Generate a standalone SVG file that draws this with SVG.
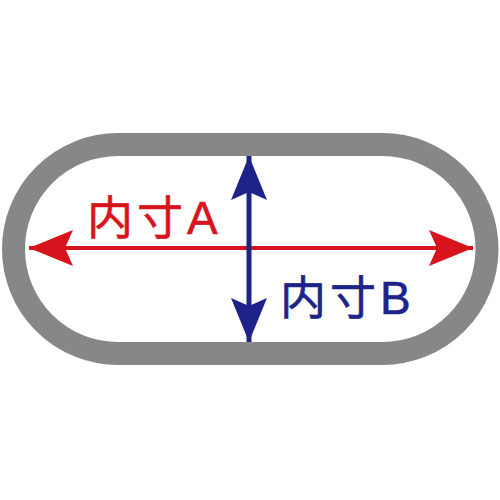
<svg xmlns="http://www.w3.org/2000/svg" width="500" height="500" viewBox="0 0 500 500">
<defs>
<style>
.lbl{font-family:"Liberation Sans","Noto Sans CJK JP",sans-serif;font-size:46px}
.red{fill:#d7141d}
.blue{fill:#1d2388}
</style>
<marker id="ahRed" markerUnits="userSpaceOnUse" viewBox="0 0 44 36" refX="44" refY="18" markerWidth="44" markerHeight="36" orient="auto-start-reverse">
<path d="M0,0 L44,18 L0,36 L8,18 z" fill="#d7141d"/>
</marker>
<marker id="ahBlue" markerUnits="userSpaceOnUse" viewBox="0 0 44 36" refX="44" refY="18" markerWidth="44" markerHeight="36" orient="auto-start-reverse">
<path d="M0,0 L44,18 L0,36 L8,18 z" fill="#1d2388"/>
</marker>
</defs>
<rect width="500" height="500" fill="#ffffff"/>
<g id="frame">
<rect x="13.5" y="144.5" width="473.5" height="209" rx="104.5" ry="104.5" fill="none" stroke="#878787" stroke-width="23"/>
</g>
<g id="connectors">
<line x1="29" y1="248" x2="473" y2="248" stroke="#d7141d" stroke-width="4" marker-start="url(#ahRed)" marker-end="url(#ahRed)"/>
<line x1="249" y1="156" x2="249" y2="342" stroke="#1d2388" stroke-width="5" marker-start="url(#ahBlue)" marker-end="url(#ahBlue)"/>
</g>
<g id="labelA">
<text class="lbl red" x="87" y="234" letter-spacing="4" stroke="#d7141d" stroke-width="0.6">内寸A</text>
</g>
<g id="labelB">
<text class="lbl blue" x="280" y="314" letter-spacing="4" stroke="#1d2388" stroke-width="0.6">内寸B</text>
</g>
</svg>
